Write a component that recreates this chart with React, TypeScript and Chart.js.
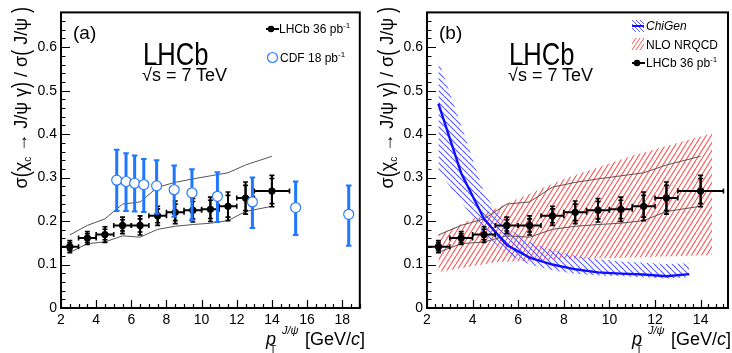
import React, { useEffect, useRef } from "react";
import { Chart, registerables } from "chart.js";
Chart.register(...registerables);

const FONT = "'Liberation Sans', Arial, Helvetica, sans-serif";

// ---------- data ----------
const lhcbX = [2.5, 3.5, 4.5, 5.5, 6.5, 7.5, 8.5, 9.5, 10.5, 11.5, 12.5, 14];
const lhcbXErr = [0.5, 0.5, 0.5, 0.5, 0.5, 0.5, 0.5, 0.5, 0.5, 0.5, 0.5, 1];
const lhcbY = [0.141, 0.161, 0.169, 0.19, 0.19, 0.212, 0.22, 0.225, 0.227, 0.234, 0.253, 0.269];
const lhcbStat = [0.009, 0.01, 0.012, 0.013, 0.015, 0.016, 0.019, 0.02, 0.021, 0.025, 0.029, 0.029];
const lhcbTotal = [0.014, 0.015, 0.018, 0.019, 0.022, 0.022, 0.026, 0.027, 0.028, 0.033, 0.037, 0.036];

const cdfX = [5.17, 5.7, 6.19, 6.71, 7.44, 8.44, 9.45, 10.9, 12.89, 15.35, 18.37];
const cdfY = [0.294, 0.291, 0.287, 0.284, 0.281, 0.272, 0.265, 0.257, 0.244, 0.231, 0.2155];
const cdfHi = [0.364, 0.356, 0.351, 0.343, 0.34, 0.328, 0.319, 0.312, 0.3, 0.291, 0.282];
const cdfLo = [0.223, 0.223, 0.222, 0.221, 0.217, 0.21, 0.202, 0.198, 0.184, 0.168, 0.143];

const bandX = [2.5, 3.5, 4.5, 5.5, 6.5, 7.5, 8.5, 9.5, 10.5, 11.5, 12.5, 14];
const bandUp = [0.168, 0.19, 0.205, 0.239, 0.244, 0.278, 0.289, 0.297, 0.304, 0.311, 0.329, 0.349];
const bandLo = [0.128, 0.148, 0.152, 0.166, 0.163, 0.181, 0.188, 0.192, 0.195, 0.201, 0.222, 0.234];

const chiX = [2.5, 3.5, 4.5, 5.5, 6.5, 7.5, 8.5, 9.5, 10.5, 11.5, 12.5, 13.5];
const chiY = [0.47, 0.31, 0.205, 0.145, 0.116, 0.1, 0.089, 0.082, 0.079, 0.077, 0.073, 0.078];
const chiUp = [0.57, 0.42, 0.265, 0.185, 0.152, 0.133, 0.12, 0.112, 0.107, 0.104, 0.101, 0.103];
const chiLo = [0.315, 0.245, 0.172, 0.124, 0.1, 0.087, 0.079, 0.075, 0.073, 0.071, 0.068, 0.071];

const nloX = [2.5, 5, 8, 11, 14.5];
const nloUp = [0.169, 0.229, 0.297, 0.35, 0.402];
const nloLo = [0.083, 0.105, 0.113, 0.116, 0.122];

const yTicks = [0, 0.1, 0.2, 0.3, 0.4, 0.5, 0.6];
const xTicksA = [2, 4, 6, 8, 10, 12, 14, 16, 18];
const xTicksB = [2, 4, 6, 8, 10, 12, 14];

// ---------- helpers ----------
const pts = (xs: number[], ys: number[]) => xs.map((x, i) => ({ x, y: ys[i] }));

function hatch(color: string, dir: 1 | -1, w: number, h: number, lw: number) {
  const c = document.createElement("canvas");
  c.width = w;
  c.height = h;
  const ctx = c.getContext("2d")!;
  ctx.strokeStyle = color;
  ctx.lineWidth = lw;
  ctx.beginPath();
  for (let k = -1; k <= 1; k++) {
    if (dir === 1) {
      ctx.moveTo(k * w, h);
      ctx.lineTo(k * w + w, 0);
    } else {
      ctx.moveTo(k * w, 0);
      ctx.lineTo(k * w + w, h);
    }
  }
  ctx.stroke();
  return ctx.createPattern(c, "repeat")!;
}

const errPlugin = {
  id: "errBars",
  beforeDatasetDraw(chart: any, args: any) {
    const ds: any = chart.data.datasets[args.index];
    const eb = ds.errBars;
    if (!eb) return;
    const { ctx, chartArea: a } = chart;
    const xs = chart.scales.x;
    const ys = chart.scales.y;
    ctx.save();
    ctx.beginPath();
    ctx.rect(a.left, a.top, a.right - a.left, a.bottom - a.top);
    ctx.clip();
    ctx.strokeStyle = eb.color;
    const line = (x1: number, y1: number, x2: number, y2: number, lw: number) => {
      ctx.lineWidth = lw;
      ctx.beginPath();
      ctx.moveTo(x1, y1);
      ctx.lineTo(x2, y2);
      ctx.stroke();
    };
    for (let i = 0; i < eb.x.length; i++) {
      const px = xs.getPixelForValue(eb.x[i]);
      const py = ys.getPixelForValue(eb.y[i]);
      if (eb.xErr) {
        const l = xs.getPixelForValue(eb.x[i] - eb.xErr[i]);
        const r = xs.getPixelForValue(eb.x[i] + eb.xErr[i]);
        line(l, py, r, py, eb.lw);
        line(l, py - eb.cap, l, py + eb.cap, eb.capLw);
        line(r, py - eb.cap, r, py + eb.cap, eb.capLw);
      }
      for (const lev of eb.levels) {
        const t = ys.getPixelForValue(lev.hi[i]);
        const b = ys.getPixelForValue(lev.lo[i]);
        line(px, t, px, b, eb.lw);
        line(px - eb.cap, t, px + eb.cap, t, eb.capLw);
        line(px - eb.cap, b, px + eb.cap, b, eb.capLw);
      }
    }
    ctx.restore();
  },
};

const framePlugin = {
  id: "rootFrame",
  afterDraw(chart: any, _args: any, opts: any) {
    const { ctx, chartArea: a } = chart;
    const xs = chart.scales.x;
    const ys = chart.scales.y;
    ctx.save();
    ctx.strokeStyle = "#000";
    ctx.lineWidth = 1.2;
    ctx.beginPath();
    const nx = Math.floor((xs.max - xs.min) / opts.xMinor + 1e-6);
    for (let k = 0; k <= nx; k++) {
      const v = xs.min + k * opts.xMinor;
      const p = Math.round(xs.getPixelForValue(v)) + 0.5;
      const len = k % opts.xPer === 0 ? 8 : 4;
      ctx.moveTo(p, a.bottom);
      ctx.lineTo(p, a.bottom - len);
    }
    const ny = Math.floor((ys.max - ys.min) / 0.02 + 1e-6);
    for (let k = 0; k <= ny; k++) {
      const v = ys.min + k * 0.02;
      const p = Math.round(ys.getPixelForValue(v)) + 0.5;
      const len = k % 5 === 0 ? 9 : 4.5;
      ctx.moveTo(a.left, p);
      ctx.lineTo(a.left + len, p);
    }
    ctx.stroke();
    ctx.lineWidth = 2;
    ctx.strokeRect(a.left, a.top, a.right - a.left, a.bottom - a.top);
    ctx.restore();
  },
};

function baseOptions(xMax: number, xTicks: number[], padRight: number, xMinor: number, xPer: number) {
  const tickFont = { family: FONT, size: 14 };
  return {
    responsive: false,
    animation: false,
    devicePixelRatio: 1,
    layout: { padding: { left: 0, top: 8, right: padRight, bottom: 0 } },
    plugins: {
      legend: { display: false },
      tooltip: { enabled: false },
      rootFrame: { xMinor, xPer },
    },
    scales: {
      x: {
        type: "linear",
        min: 2,
        max: xMax,
        afterFit: (s: any) => {
          s.height = 45;
        },
        afterBuildTicks: (s: any) => {
          s.ticks = xTicks.map((v) => ({ value: v }));
        },
        grid: { display: false, drawTicks: false },
        border: { display: false },
        ticks: {
          autoSkip: false,
          maxRotation: 0,
          font: tickFont,
          color: "#000",
          padding: 4,
          callback: (v: any) => String(v),
        },
      },
      y: {
        type: "linear",
        min: 0,
        max: 0.68,
        afterFit: (s: any) => {
          s.width = 61;
        },
        afterBuildTicks: (s: any) => {
          s.ticks = yTicks.map((v) => ({ value: v }));
        },
        grid: { display: false, drawTicks: false },
        border: { display: false },
        ticks: {
          font: tickFont,
          color: "#000",
          padding: 4,
          callback: (v: any) => (v === 0 ? "0" : Number(v).toFixed(1)),
        },
      },
    },
  };
}

function lhcbDataset() {
  return {
    label: "LHCb 36 pb-1",
    data: pts(lhcbX, lhcbY),
    showLine: false,
    pointRadius: 3.6,
    pointBackgroundColor: "#000",
    pointBorderColor: "#000",
    pointBorderWidth: 0,
    order: 1,
    errBars: {
      x: lhcbX,
      y: lhcbY,
      xErr: lhcbXErr,
      color: "#000",
      lw: 2,
      capLw: 1.6,
      cap: 2.5,
      levels: [
        { lo: lhcbY.map((v, i) => v - lhcbTotal[i]), hi: lhcbY.map((v, i) => v + lhcbTotal[i]) },
        { lo: lhcbY.map((v, i) => v - lhcbStat[i]), hi: lhcbY.map((v, i) => v + lhcbStat[i]) },
      ],
    },
  };
}

function grayLine(label: string, ys: number[]) {
  return {
    label,
    data: pts(bandX, ys),
    showLine: true,
    pointRadius: 0,
    borderColor: "#555",
    borderWidth: 1,
    fill: false,
    tension: 0,
    order: 3,
  };
}

function configA() {
  return {
    type: "line",
    data: {
      datasets: [
        {
          label: "CDF 18 pb-1",
          data: pts(cdfX, cdfY),
          showLine: false,
          pointRadius: 5,
          pointBackgroundColor: "#fff",
          pointBorderColor: "#2b7bff",
          pointBorderWidth: 1.2,
          order: 0,
          errBars: {
            x: cdfX,
            y: cdfY,
            color: "#1f77ff",
            lw: 3,
            capLw: 2,
            cap: 2.8,
            levels: [{ lo: cdfLo, hi: cdfHi }],
          },
        },
        lhcbDataset(),
        grayLine("band upper", bandUp),
        grayLine("band lower", bandLo),
      ],
    },
    options: baseOptions(19, xTicksA, 1, 0.5, 4),
    plugins: [errPlugin, framePlugin],
  };
}

function configB() {
  const red = hatch("rgb(255,80,80)", 1, 5, 8, 1.1);
  const blue = hatch("rgb(90,90,255)", -1, 6, 6, 1.1);
  return {
    type: "line",
    data: {
      datasets: [
        lhcbDataset(),
        {
          label: "ChiGen",
          data: pts(chiX, chiY),
          showLine: true,
          pointRadius: 0,
          borderColor: "#1010ff",
          borderWidth: 2.4,
          fill: false,
          order: 2,
        },
        grayLine("band upper", bandUp),
        grayLine("band lower", bandLo),
        {
          label: "ChiGen lower",
          data: pts(chiX, chiLo),
          showLine: true,
          pointRadius: 0,
          borderWidth: 0,
          borderColor: "rgba(0,0,0,0)",
          fill: false,
          order: 4,
        },
        {
          label: "ChiGen upper",
          data: pts(chiX, chiUp),
          showLine: true,
          pointRadius: 0,
          borderWidth: 0,
          borderColor: "rgba(0,0,0,0)",
          backgroundColor: blue,
          fill: { target: 4 },
          order: 4,
        },
        {
          label: "NLO lower",
          data: pts(nloX, nloLo),
          showLine: true,
          pointRadius: 0,
          borderWidth: 0,
          borderColor: "rgba(0,0,0,0)",
          fill: false,
          order: 5,
        },
        {
          label: "NLO NRQCD",
          data: pts(nloX, nloUp),
          showLine: true,
          pointRadius: 0,
          borderWidth: 0,
          borderColor: "rgba(0,0,0,0)",
          backgroundColor: red,
          fill: { target: 6 },
          order: 5,
        },
      ],
    },
    options: baseOptions(15.2, xTicksB, 2, 1 / 3, 6),
    plugins: [errPlugin, framePlugin],
  };
}

function Panel({ config, left }: { config: () => any; left: number }) {
  const ref = useRef<HTMLCanvasElement>(null);
  useEffect(() => {
    const chart = new Chart(ref.current as HTMLCanvasElement, config());
    return () => chart.destroy();
  }, []);
  return (
    <canvas
      ref={ref}
      width={366}
      height={353}
      style={{ position: "absolute", left, top: 0, width: 366, height: 353 }}
    />
  );
}

const abs = (left: number, top: number, extra: any = {}) => ({
  position: "absolute" as const,
  left,
  top,
  lineHeight: 1,
  whiteSpace: "nowrap" as const,
  ...extra,
});

function Paren({ c }: { c: string }) {
  return <span style={{ display: "inline-block", transform: "scaleY(1.35)" }}>{c}</span>;
}

function YTitle({ left }: { left: number }) {
  return (
    <div
      style={{
        position: "absolute",
        left,
        top: 307,
        width: 300,
        height: 20,
        transform: "rotate(-90deg)",
        transformOrigin: "top left",
        textAlign: "right",
        fontSize: 18,
        lineHeight: "20px",
        whiteSpace: "nowrap",
      }}
    >
      σ<Paren c="(" />χ<span style={{ fontSize: 10, position: "relative", top: 4 }}>c</span>
      {" "}→ J/ψ γ<Paren c=")" /> / σ<Paren c="(" /> J/ψ <Paren c=")" />
    </div>
  );
}

function XTitle({ off }: { off: number }) {
  return (
    <>
      <div style={abs(266 + off, 330, { fontSize: 18, fontStyle: "italic" })}>p</div>
      <div style={abs(282 + off, 325, { fontSize: 11, fontStyle: "italic" })}>J/ψ</div>
      <div style={abs(270 + off, 345, { fontSize: 10 })}>T</div>
      <div style={abs(305 + off, 330, { fontSize: 18 })}>
        [GeV/<i>c</i>]
      </div>
    </>
  );
}

function Headline({ off, tag }: { off: number; tag: string }) {
  return (
    <>
      <div style={abs(73 + off, 23, { fontSize: 19 })}>{tag}</div>
      <div style={abs(143 + off, 38, { fontSize: 32, transform: "scaleX(0.8)", transformOrigin: "left" })}>
        LHCb
      </div>
      <div style={abs(142 + off, 66, { fontSize: 18 })}>
        √<span style={{ textDecoration: "overline" }}>s</span> = 7 TeV
      </div>
    </>
  );
}

function Pb({ n }: { n: string }) {
  return (
    <>
      {n} pb<span style={{ fontSize: 8, position: "relative", top: -5 }}>-1</span>
    </>
  );
}

function LhcbIcon({ x, y }: { x: number; y: number }) {
  return (
    <svg style={{ position: "absolute", left: x, top: y - 6 }} width={14} height={12}>
      <line x1={0} y1={6} x2={13} y2={6} stroke="#000" strokeWidth={2} />
      <circle cx={5} cy={6} r={3.3} fill="#000" />
    </svg>
  );
}

export default function App() {
  return (
    <div
      style={{
        position: "absolute",
        left: 0,
        top: 0,
        width: 732,
        height: 353,
        background: "#fff",
        fontFamily: FONT,
        color: "#000",
        overflow: "hidden",
      }}
    >
      <Panel config={configA} left={0} />
      <Panel config={configB} left={366} />

      <YTitle left={11} />
      <YTitle left={377} />
      <XTitle off={0} />
      <XTitle off={366} />
      <Headline off={0} tag="(a)" />
      <Headline off={366} tag="(b)" />

      {/* legend (a) */}
      <LhcbIcon x={266} y={29} />
      <div style={abs(279, 23, { fontSize: 12 })}>
        LHCb <Pb n="36" />
      </div>
      <svg style={{ position: "absolute", left: 266, top: 51 }} width={13} height={13}>
        <circle cx={6.5} cy={6.5} r={5} fill="#fff" stroke="#2b7bff" strokeWidth={1.2} />
      </svg>
      <div style={abs(280, 52, { fontSize: 12 })}>
        CDF <Pb n="18" />
      </div>

      {/* legend (b) */}
      <svg style={{ position: "absolute", left: 632, top: 20 }} width={12} height={12}>
        {[-8, -4, 0, 4, 8].map((d) => (
          <line key={d} x1={d} y1={0} x2={d + 12} y2={12} stroke="rgb(90,90,255)" strokeWidth={1} />
        ))}
        <line x1={0} y1={6} x2={12} y2={6} stroke="#1010ff" strokeWidth={2} />
      </svg>
      <div style={abs(646, 20, { fontSize: 12, fontStyle: "italic" })}>ChiGen</div>
      <svg style={{ position: "absolute", left: 632, top: 38 }} width={12} height={12}>
        {[-8, -4, 0, 4, 8].map((d) => (
          <line key={d} x1={d} y1={12} x2={d + 8} y2={0} stroke="rgb(255,80,80)" strokeWidth={1} />
        ))}
      </svg>
      <div style={abs(646, 38.5, { fontSize: 12 })}>NLO NRQCD</div>
      <LhcbIcon x={632} y={63} />
      <div style={abs(646, 57, { fontSize: 12 })}>
        LHCb <Pb n="36" />
      </div>
    </div>
  );
}
